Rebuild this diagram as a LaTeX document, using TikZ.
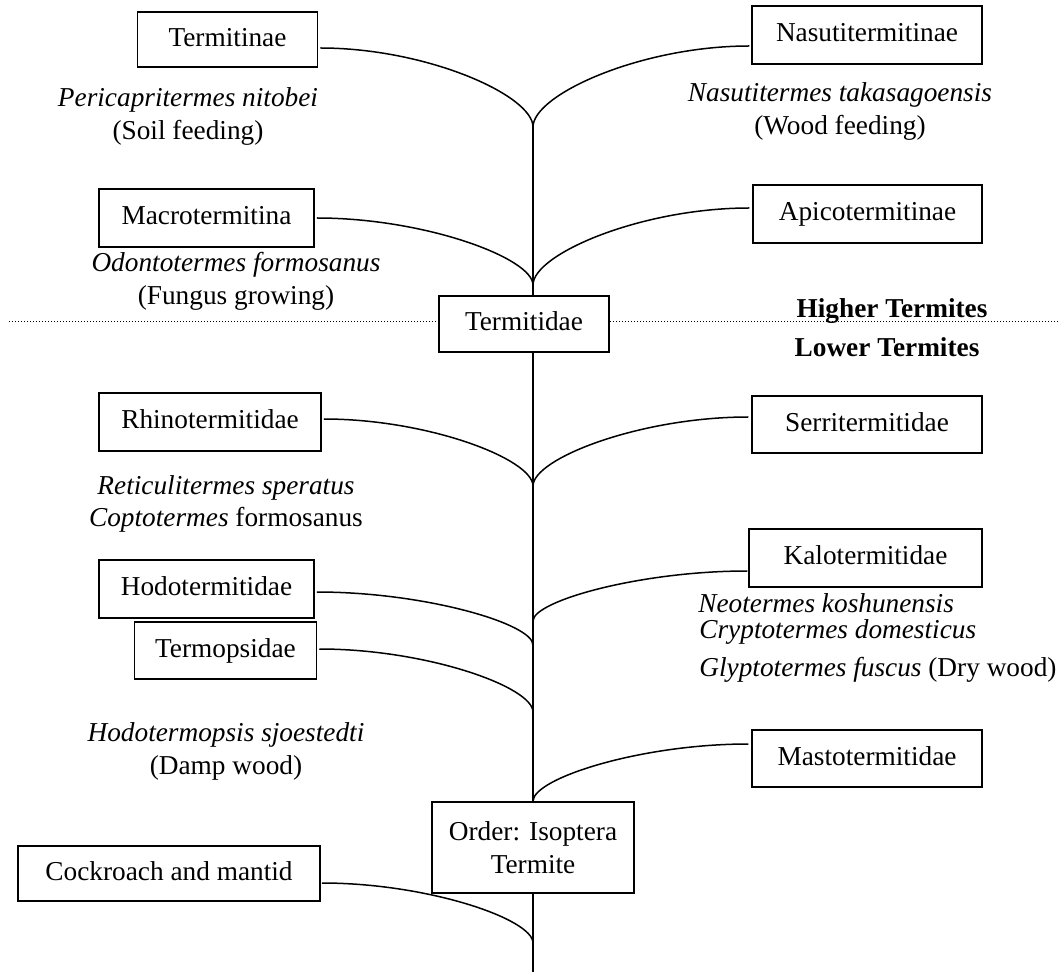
\documentclass[tikz,border=0pt]{standalone}
\usepackage{fontspec}
\setmainfont{Liberation Serif}
\usetikzlibrary{calc}
\begin{document}
\begin{tikzpicture}[x=0.5pt,y=-0.5pt,
  font=\fontsize{13.65}{16.5}\selectfont,
  boxbase/.style={draw,line width=0.75pt,inner sep=0pt},
  box/.style={boxbase,text height=9.5pt,text depth=2.5pt},
  lbl/.style={inner sep=0pt,anchor=base},
  lblw/.style={inner sep=0pt,anchor=base west},
  conn/.style={line width=0.75pt},
  branch/.style={
    to path={.. controls ($(\tikztostart)!0.5!(\tikztotarget|-\tikztostart)$)
      and ($(\tikztotarget)!0.4!(\tikztotarget|-\tikztostart)$) .. (\tikztotarget)}},
  divider/.style={densely dotted,line width=0.5pt}]
\useasboundingbox (0,0) rectangle (1060,972);

% boxes
\node[box,minimum width=90pt,minimum height=27.5pt] (termitinae) at (227.5,39.5) {Termitinae};
\node[box,minimum width=115pt,minimum height=29pt] (nasuti) at (867,35) {Nasutitermitinae};
\node[box,minimum width=107.5pt,minimum height=29pt] (macro) at (206.5,218) {Macrotermitina};
\node[box,minimum width=114.5pt,minimum height=29pt] (apico) at (867.5,214) {Apicotermitinae};
\node[box,minimum width=85pt,minimum height=28pt] (termitidae) at (524,324) {Termitidae};
\node[box,minimum width=111pt,minimum height=29pt] (rhino) at (210,422) {Rhinotermitidae};
\node[box,minimum width=115pt,minimum height=28.5pt] (serri) at (867,424.5) {Serritermitidae};
\node[box,minimum width=107.5pt,minimum height=29pt] (hodo) at (206.5,589) {Hodotermitidae};
\node[box,minimum width=116.5pt,minimum height=29pt] (kalo) at (865.5,558) {Kalotermitidae};
\node[box,minimum width=91pt,minimum height=28.5pt] (termop) at (225.5,650.5) {Termopsidae};
\node[box,minimum width=115pt,minimum height=28.5pt] (masto) at (867,758.5) {Mastotermitidae};
\node[boxbase,align=center,minimum width=101pt,minimum height=45.5pt] (order) at (533,847.5)
  {Order: Isoptera\\Termite};
\node[box,minimum width=151pt,minimum height=27.5pt] (cockroach) at (169,873.5) {Cockroach and mantid};

% texts
\node[lbl] (tPeri) at (188,107) {\textit{Pericapritermes nitobei}};
\node[lbl] (tSoil) at (188,140) {(Soil feeding)};
\node[lbl] (tNasu) at (840,102) {\textit{Nasutitermes takasagoensis}};
\node[lbl] (tWood) at (840,135) {(Wood feeding)};
\node[lbl] (tOdon) at (236,272) {\textit{Odontotermes formosanus}};
\node[lbl] (tFung) at (236,305) {(Fungus growing)};
\node[lbl] (tHigh) at (892,318) {\bfseries Higher Termites};
\node[lbl] (tLow) at (887,357) {\bfseries Lower Termites};
\node[lbl] (tReti) at (226,495) {\textit{Reticulitermes speratus}};
\node[lbl] (tCopt) at (226,527) {\textit{Coptotermes} formosanus};
\node[lblw] (tNeot) at (698,612) {\textit{Neotermes koshunensis}};
\node[lblw] (tCryp) at (699,639) {\textit{Cryptotermes domesticus}};
\node[lblw] (tGlyp) at (699,676) {\textit{Glyptotermes fuscus} (Dry wood)};
\node[lbl] (tHodo) at (226,741) {\textit{Hodotermopsis sjoestedti}};
\node[lbl] (tDamp) at (226,774) {(Damp wood)};

% divider
\coordinate (lineL) at (9,322);
\coordinate (lineR) at (1060,322);
\draw[divider] (lineL) -- (lineL -| termitidae.west);
\draw[divider] (termitidae.east |- lineL) -- (lineR);

% trunk points
\coordinate (cTop) at (533,127);
\coordinate (cMid) at (533,285);
\coordinate (cRS) at (533,486);
\coordinate (cKalo) at (533,621);
\coordinate (cHodo) at (533,645);
\coordinate (cTermop) at (533,712);
\coordinate (cRoach) at (533,943);
\coordinate (bottom) at (533,972);

\draw[conn] (cTop) -- (cTop |- termitidae.north);
\draw[conn] (termitidae.south -| cTop) -- (order.north);
\draw[conn] (order.south) -- (bottom);

% branch start points
\coordinate (sTermitinae) at ($(termitinae.east |- 0,48)+(2,0)$);
\coordinate (sNasuti) at ($(nasuti.west |- 0,46)+(-2,0)$);
\coordinate (sMacro) at ($(macro.east |- 0,218)+(2,0)$);
\coordinate (sApico) at ($(apico.west |- 0,208)+(-3,0)$);
\coordinate (sRhino) at ($(rhino.east |- 0,419)+(2,0)$);
\coordinate (sSerri) at ($(serri.west |- 0,417)+(-3,0)$);
\coordinate (sHodo) at ($(hodo.east |- 0,592)+(2,0)$);
\coordinate (sKalo) at ($(kalo.west |- 0,571)+(-1,0)$);
\coordinate (sTermop) at ($(termop.east |- 0,649)+(2,0)$);
\coordinate (sMasto) at ($(masto.west |- 0,744)+(-3,0)$);
\coordinate (sRoach) at ($(cockroach.east |- 0,883)+(1,0)$);

\draw[conn] (sTermitinae) to[branch] (cTop);
\draw[conn] (sNasuti) to[branch] (cTop);
\draw[conn] (sMacro) to[branch] (cMid);
\draw[conn] (sApico) to[branch] (cMid);
\draw[conn] (sRhino) to[branch] (cRS);
\draw[conn] (sSerri) to[branch] (cRS);
\draw[conn] (sHodo) to[branch] (cHodo);
\draw[conn] (sKalo) to[branch] (cKalo);
\draw[conn] (sTermop) to[branch] (cTermop);
\draw[conn] (sMasto) to[branch] (order.north);
\draw[conn] (sRoach) to[branch] (cRoach);
\end{tikzpicture}
\end{document}
